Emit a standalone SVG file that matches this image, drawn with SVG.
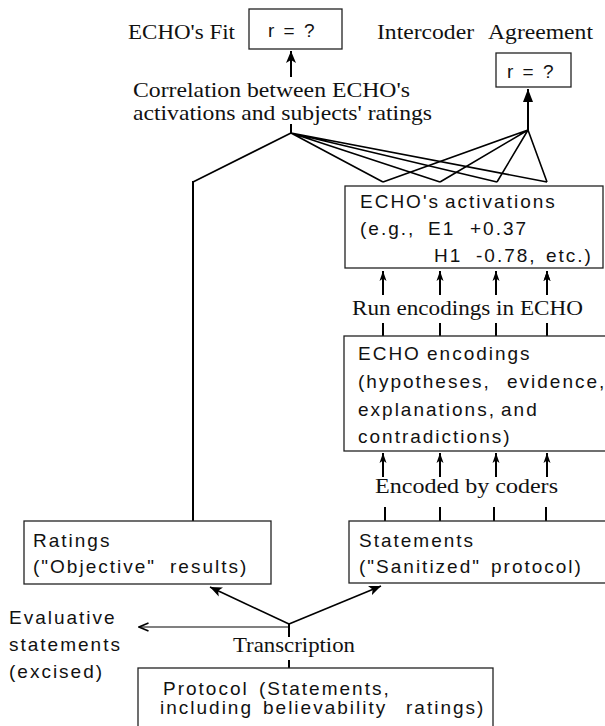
<svg xmlns="http://www.w3.org/2000/svg" width="605" height="726" viewBox="0 0 605 726">
<defs>
<style>
.box{fill:#fff;stroke:#222;stroke-width:1.3}
.sans{font-family:"Liberation Sans",Arial,sans-serif;font-size:19px;letter-spacing:2px;fill:#111}
.serif{font-family:"Liberation Serif","Times New Roman",serif;font-size:22px;fill:#111}
.ln{fill:none;stroke:#000;stroke-width:1.6}
.tk{fill:none;stroke:#000;stroke-width:2}
</style>
<marker id="tri" markerUnits="userSpaceOnUse" markerWidth="14" markerHeight="12" refX="13" refY="5" orient="auto"><path d="M0,0 L13,5 L0,10 z" fill="#000"/></marker>
<marker id="barb" markerUnits="userSpaceOnUse" markerWidth="13" markerHeight="10" refX="12" refY="5" orient="auto"><path d="M0,0 L12,5 L0,10 L3,5 z" fill="#000"/></marker>
<marker id="small" markerUnits="userSpaceOnUse" markerWidth="11" markerHeight="8" refX="10" refY="4" orient="auto"><path d="M0,0.5 L10,4 L0,7.5 L2.5,4 z" fill="#000"/></marker>
<marker id="chev" markerUnits="userSpaceOnUse" markerWidth="12" markerHeight="10" refX="10.5" refY="5" orient="auto"><path d="M1,1 L10.5,5 L1,9" fill="none" stroke="#000" stroke-width="1.6"/></marker>
</defs>

<g id="connectors">
<path class="tk" d="M291,77 L291,51" marker-end="url(#barb)"/>
<path class="tk" d="M528,130 L528,89" marker-end="url(#tri)"/>
<path class="tk" d="M291,124 L291,133"/>
<path class="ln" d="M291,133 L193,182 M291,133 L383,182 M291,133 L440,182 M291,133 L497,182 M291,133 L547,182"/>
<path class="ln" d="M528,130 L383,182 M528,130 L440,182 M528,130 L497,182 M528,130 L547,182"/>
<path class="tk" d="M193,181 L193,521"/>
<path class="tk" d="M383,295 L383,271 M440,295 L440,271 M496,295 L496,271 M547,295 L547,271" marker-end="url(#small)"/>
<g class="tk">
<path d="M383,295 L383,271" marker-end="url(#small)"/>
<path d="M440,295 L440,271" marker-end="url(#small)"/>
<path d="M496,295 L496,271" marker-end="url(#small)"/>
<path d="M547,295 L547,271" marker-end="url(#small)"/>
<path d="M383,323 L383,336 M440,323 L440,336 M496,323 L496,336 M547,323 L547,336"/>
<path d="M383,477 L383,453" marker-end="url(#small)"/>
<path d="M440,477 L440,453" marker-end="url(#small)"/>
<path d="M496,477 L496,453" marker-end="url(#small)"/>
<path d="M547,477 L547,453" marker-end="url(#small)"/>
<path d="M385,507 L385,521 M440,507 L440,521 M494,507 L494,521 M546,507 L546,521"/>
</g>
<path class="ln" d="M289,624 L210,587" marker-end="url(#barb)"/>
<path class="ln" d="M289,624 L381,586" marker-end="url(#barb)"/>
<path d="M289,627 L139,627" fill="none" stroke="#808080" stroke-width="1.8" marker-end="url(#chev)"/>
<path class="tk" d="M289,624 L289,637 M289,660 L289,668"/>
</g>

<g id="fit-label"><text class="serif" x="128" y="39" textLength="107" lengthAdjust="spacingAndGlyphs">ECHO's Fit</text></g>
<g id="fit-box"><rect class="box" x="249" y="9" width="93" height="40"/><text class="sans" x="268" y="37">r = ?</text></g>
<g id="agreement-label"><text class="serif" x="377" y="39" textLength="97" lengthAdjust="spacingAndGlyphs">Intercoder</text><text class="serif" x="488" y="39" textLength="105" lengthAdjust="spacingAndGlyphs">Agreement</text></g>
<g id="agreement-box"><rect class="box" x="496" y="53" width="75" height="34"/><text class="sans" x="507" y="78">r = ?</text></g>
<g id="correlation-label"><text class="serif" x="133" y="97" textLength="277" lengthAdjust="spacingAndGlyphs">Correlation between ECHO's</text><text class="serif" x="133" y="120" textLength="299" lengthAdjust="spacingAndGlyphs">activations and subjects' ratings</text></g>

<g id="activations"><rect class="box" x="345" y="186" width="258" height="82"/>
<text class="sans" y="208"><tspan x="360">ECHO's</tspan><tspan x="445">activations</tspan></text>
<text class="sans" y="235"><tspan x="360">(e.g.,</tspan><tspan x="428">E1</tspan><tspan x="470">+0.37</tspan></text>
<text class="sans" y="262"><tspan x="434">H1</tspan><tspan x="476">-0.78,</tspan><tspan x="546">etc.)</tspan></text>
</g>
<g id="run-label"><text class="serif" x="352" y="315" textLength="231" lengthAdjust="spacingAndGlyphs">Run encodings in ECHO</text></g>

<g id="encodings"><rect class="box" x="344" y="336" width="270" height="115"/>
<text class="sans" y="360"><tspan x="358">ECHO</tspan><tspan x="427">encodings</tspan></text>
<text class="sans" y="388"><tspan x="358">(hypotheses,</tspan><tspan x="507">evidence,</tspan></text>
<text class="sans" y="416"><tspan x="358">explanations,</tspan><tspan x="501">and</tspan></text>
<text class="sans" x="358" y="443">contradictions)</text>
</g>
<g id="coders-label"><text class="serif" x="375" y="493" textLength="183" lengthAdjust="spacingAndGlyphs">Encoded by coders</text></g>

<g id="ratings"><rect class="box" x="24" y="521" width="247" height="63"/>
<text class="sans" x="33" y="547">Ratings</text>
<text class="sans" y="573"><tspan x="33">("Objective"</tspan><tspan x="170">results)</tspan></text>
</g>
<g id="statements"><rect class="box" x="349" y="521" width="265" height="62"/>
<text class="sans" x="359" y="547">Statements</text>
<text class="sans" y="573"><tspan x="359">("Sanitized"</tspan><tspan x="491">protocol)</tspan></text>
</g>

<g id="excised"><text class="sans" y="624"><tspan x="9">Evaluative</tspan><tspan x="9" dy="27">statements</tspan><tspan x="9" dy="27">(excised)</tspan></text></g>
<g id="transcription-label"><text class="serif" x="233" y="652" textLength="122" lengthAdjust="spacingAndGlyphs">Transcription</text></g>

<g id="protocol"><rect class="box" x="138" y="668" width="355" height="70"/>
<text class="sans" y="695"><tspan x="163">Protocol</tspan><tspan x="259">(Statements,</tspan></text>
<text class="sans" y="714"><tspan x="160">including</tspan><tspan x="263">believability</tspan><tspan x="406">ratings)</tspan></text>
</g>
</svg>
